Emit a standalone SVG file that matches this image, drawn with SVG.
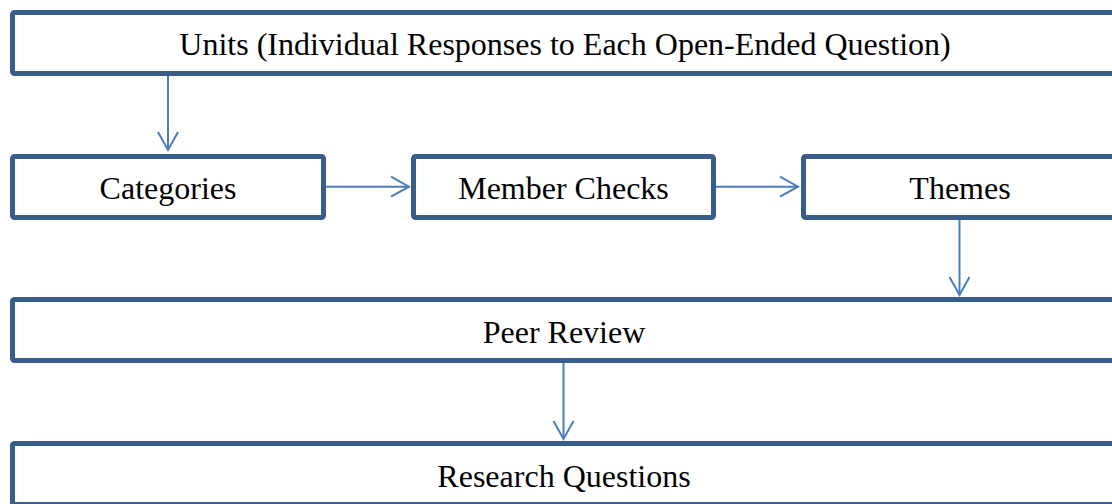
<svg xmlns="http://www.w3.org/2000/svg" width="1112" height="504" viewBox="0 0 1112 504">
<style>
.box{fill:#ffffff;stroke:#385D8A;stroke-width:5;}
.lbl{font-family:"Liberation Serif","Times New Roman",serif;font-size:32px;fill:#000;text-anchor:middle;}
.con{stroke:#4A7EBB;stroke-width:2;fill:none;}
</style>
<defs>
<marker id="ah" markerUnits="userSpaceOnUse" markerWidth="24" markerHeight="24" viewBox="-20 -12 22 24" refX="0" refY="0" orient="auto">
<path d="M-18,-10 L0,0 L-18,10" fill="none" stroke="#4A7EBB" stroke-width="2"/>
</marker>
</defs>
<rect width="1112" height="504" fill="#ffffff"/>
<g id="connectors">
<line class="con" x1="168" y1="76" x2="168" y2="150" marker-end="url(#ah)"/>
<line class="con" x1="326" y1="186.7" x2="409" y2="186.7" marker-end="url(#ah)"/>
<line class="con" x1="716" y1="186.7" x2="798" y2="186.7" marker-end="url(#ah)"/>
<line class="con" x1="959.5" y1="220" x2="959.5" y2="295" marker-end="url(#ah)"/>
<line class="con" x1="563.5" y1="363" x2="563.5" y2="439" marker-end="url(#ah)"/>
</g>
<g id="units">
<rect class="box" x="12.5" y="12.5" width="1200" height="61" rx="2"/>
<text class="lbl" x="565" y="55">Units (Individual Responses to Each Open-Ended Question)</text>
</g>
<g id="categories">
<rect class="box" x="12.5" y="156.5" width="311" height="61" rx="2"/>
<text class="lbl" x="168" y="199">Categories</text>
</g>
<g id="member-checks">
<rect class="box" x="413.5" y="156.5" width="300" height="61" rx="2"/>
<text class="lbl" x="563.5" y="199">Member Checks</text>
</g>
<g id="themes">
<rect class="box" x="803.5" y="156.5" width="400" height="61" rx="2"/>
<text class="lbl" x="960" y="199">Themes</text>
</g>
<g id="peer-review">
<rect class="box" x="12.5" y="299.5" width="1200" height="61" rx="2"/>
<text class="lbl" x="564" y="343">Peer Review</text>
</g>
<g id="research-questions">
<rect class="box" x="12.5" y="443.5" width="1200" height="61" rx="2"/>
<text class="lbl" x="564" y="487">Research Questions</text>
</g>
</svg>
